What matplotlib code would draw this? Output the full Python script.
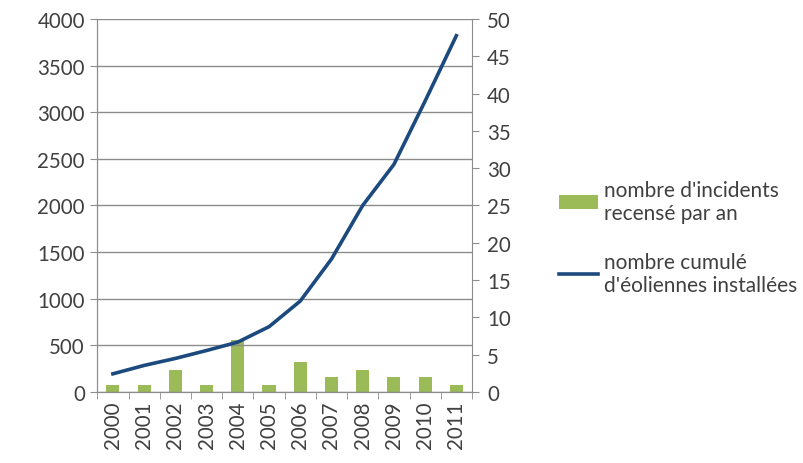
import numpy as np
import matplotlib.pyplot as plt

plt.rcParams['font.family'] = ['Lato', 'DejaVu Sans']

years = ["2000", "2001", "2002", "2003", "2004", "2005",
         "2006", "2007", "2008", "2009", "2010", "2011"]
incidents = [1, 1, 3, 1, 7, 1, 4, 2, 3, 2, 2, 1]
eoliennes = [195, 285, 360, 445, 535, 700, 975, 1425, 2000, 2440, 3120, 3820]

green = "#9BBB59"
navy = "#1C4A7E"
grey = "#8C8C8C"
txt = "#404040"

fig = plt.figure(figsize=(8.04, 4.64), dpi=100)
ax = fig.add_axes([0.121, 0.153, 0.466, 0.804])
ax2 = ax.twinx()

x = np.arange(len(years))
ax2.bar(x, incidents, width=0.42, color=green, label="nombre d'incidents\nrecensé par an")
ax.plot(x, eoliennes, color=navy, lw=2.6, label="nombre cumulé\nd'éoliennes installées")

ax.set_zorder(ax2.get_zorder() + 1)
ax.patch.set_visible(False)

ax.set_ylim(0, 4000)
ax.set_yticks(range(0, 4001, 500))
ax2.set_ylim(0, 50)
ax2.set_yticks(range(0, 51, 5))
ax.set_xlim(-0.5, len(years) - 0.5)
ax.set_xticks(x)
ax.set_xticklabels(years, rotation=90)
ax.set_xticks(np.arange(-0.5, len(years)), minor=True)

ax.yaxis.grid(True, color=grey, lw=1)
ax.set_axisbelow(True)

for a in (ax, ax2):
    a.spines['top'].set_visible(False)
    for s in ('left', 'right', 'bottom'):
        a.spines[s].set_color(grey)
    a.tick_params(colors=txt, labelsize=14.8)
    a.tick_params(axis='both', color=grey)
ax.spines['right'].set_visible(False)
ax.tick_params(axis='x', which='major', length=0, pad=6)
ax.tick_params(axis='x', which='minor', length=5, color=grey)
ax.tick_params(axis='y', length=5, pad=4)
ax2.tick_params(axis='y', length=5, pad=6)

h1, l1 = ax2.get_legend_handles_labels()
h2, l2 = ax.get_legend_handles_labels()
fig.legend(h1 + h2, l1 + l2, loc='center left', bbox_to_anchor=(0.672, 0.486),
           frameon=False, fontsize=15, labelcolor=txt, handlelength=1.85,
           handletextpad=0.3, labelspacing=1.4)

fig.savefig("out.png", dpi=100)
